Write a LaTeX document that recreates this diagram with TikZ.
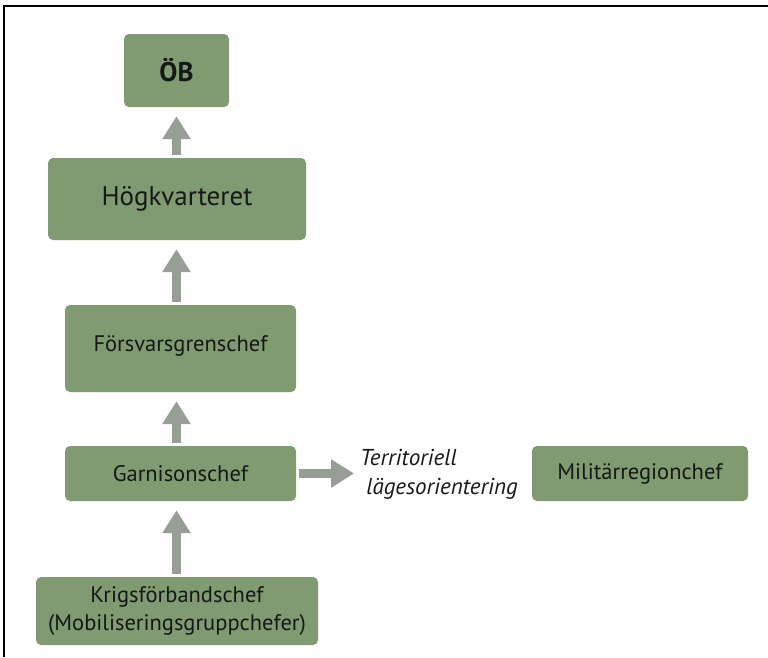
\documentclass[tikz,border=0pt]{standalone}
\usepackage{fontspec}
\setmainfont{PT Sans}
\usetikzlibrary{arrows.meta}

\definecolor{boxgreen}{RGB}{128,154,114}
\definecolor{arrowgrey}{RGB}{151,158,150}
\definecolor{textdark}{RGB}{22,24,22}

\begin{document}
\begin{tikzpicture}[x=1pt, y=-1pt,
    box/.style={rectangle, rounded corners=5pt, fill=boxgreen, text=textdark, inner sep=0pt, align=center, font=\fontsize{22.5}{28}\selectfont},
    uparrow/.style={line width=8.5pt, draw=arrowgrey, -{Triangle[width=27pt 0, length=23pt 0]}, shorten >=9pt, shorten <=3pt}]

    \useasboundingbox (0,0) rectangle (768,657);

    % Frame (top and left edge only)
    \draw[line width=2pt, black] (4,657) -- (4,5.5) -- (768,5.5);

    % Chain of command
    \node[box, minimum width=105pt, minimum height=73pt, font=\fontsize{27}{30}\selectfont\bfseries] (ob) at (176.5,70.5) {ÖB};
    \node[box, minimum width=258pt, minimum height=82pt, font=\fontsize{27}{30}\selectfont] (hkv) at (177,199) {Högkvarteret};
    \node[box, minimum width=231pt, minimum height=87pt, text depth=9pt] (fgc) at (180.5,348.5) {Försvarsgrenschef};
    \node[box, minimum width=231pt, minimum height=55pt] (garn) at (180.5,473.5) {Garnisonschef};
    \node[box, minimum width=282pt, minimum height=68pt] (krig) at (177,611) {Krigsförbandschef\\(Mobiliseringsgruppchefer)};

    % Side branch
    \node[box, minimum width=216pt, minimum height=55pt] (mrc) at (640,473.5) {Militärregionchef};
    \node[anchor=west, align=left, inner sep=0pt, text=textdark, font=\fontsize{23}{29}\selectfont\itshape] (terr) at (360,474) {Territoriell\\\ lägesorientering};

    % Arrows
    \draw[uparrow] (hkv.north -| ob.south) -- (ob.south);
    \draw[uparrow] (fgc.north -| ob.south) -- (hkv.south -| ob.south);
    \draw[uparrow] (garn.north -| ob.south) -- (fgc.south -| ob.south);
    \draw[uparrow] (krig.north -| ob.south) -- (garn.south -| ob.south);
    \draw[uparrow, shorten >=6pt] (garn.east) -- (garn.east -| terr.west);

\end{tikzpicture}
\end{document}
